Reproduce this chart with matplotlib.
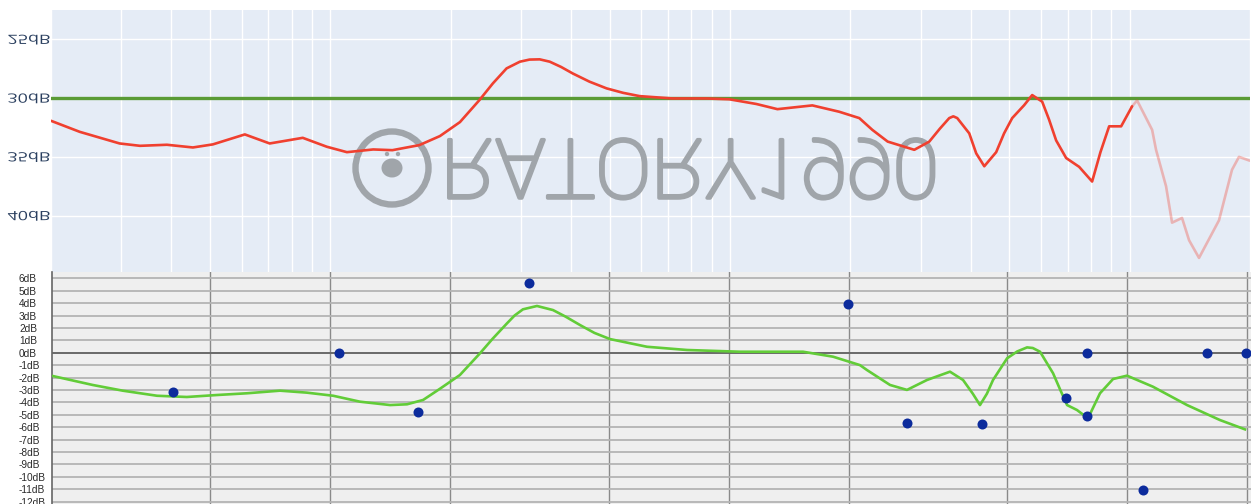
import matplotlib
matplotlib.use("Agg")
import matplotlib.pyplot as plt
from matplotlib.patheffects import AbstractPathEffect
from matplotlib.transforms import Affine2D, IdentityTransform
from matplotlib.patches import Circle, Ellipse
from matplotlib.ticker import FixedLocator, NullLocator

# ---------------- data ----------------
# measured response (top panel, dB)
fr_freq = [20, 23.6, 29.7, 33.4, 39, 45.3, 50.8, 61.1, 70.5, 85.3, 98, 110, 128, 143, 167, 188,
           211, 236, 255, 276, 298, 315, 334, 354, 378, 404, 445, 491, 540, 594, 718, 873, 996,
           1164, 1314, 1607, 1876, 2106, 2270, 2480, 2891, 3152, 3350, 3536, 3620, 3703, 3968,
           4130, 4327, 4634, 4850, 5082, 5445, 5702, 6040, 6280, 6546, 6935, 7474, 8054, 8450,
           8884, 9520, 10140]
fr_db = [31.93, 32.87, 33.86, 34.06, 33.97, 34.2, 33.94, 33.09, 33.86, 33.38, 34.14, 34.6, 34.37,
         34.43, 34.0, 33.23, 32.04, 30.17, 28.75, 27.47, 26.9, 26.72, 26.7, 26.9, 27.35, 27.9,
         28.6, 29.17, 29.55, 29.83, 30.03, 30.03, 30.1, 30.5, 30.94, 30.62, 31.16, 31.7, 32.7,
         33.7, 34.4, 33.7, 32.6, 31.7, 31.55, 31.7, 33.0, 34.7, 35.8, 34.6, 33.0, 31.7, 30.6,
         29.74, 30.3, 31.8, 33.6, 35.1, 35.85, 37.1, 34.6, 32.4, 32.4, 30.7]
# faded high-frequency tail
tail_freq = [10140, 10437, 11380, 11640, 12330, 12765, 13520, 14080, 14910, 16730, 18030, 18770, 19880]
tail_db = [30.7, 30.2, 32.7, 34.4, 37.5, 40.6, 40.2, 42.1, 43.6, 40.4, 36.1, 35.0, 35.3]
target_db = 30

top_yticks = [25, 30, 35, 40]
top_ylabels = ["25dB", "30dB", "35dB", "40dB"]
top_grid_freqs = [20, 30, 40, 50, 60, 70, 80, 90, 100, 200, 300, 400, 500, 600, 700, 800, 900,
                  1000, 2000, 3000, 4000, 5000, 6000, 7000, 8000, 9000, 10000, 20000]

# EQ curve (bottom panel, dB)
eq_freq = [20.1, 25.3, 30.1, 36.7, 43.6, 51.9, 61.8, 74.7, 87.3, 101.6, 118.7, 141.2, 155.7, 170.9,
           188.5, 211.4, 237.4, 255, 277.6, 290, 304.4, 330.1, 362.2, 390, 423.5, 460, 503.5,
           623.6, 785.8, 1067.9, 1537, 1828, 2136, 2225, 2541, 2803, 3146, 3594, 3876, 4100,
           4275, 4450, 4609, 5000, 5300, 5611, 5800, 6049, 6523, 6800, 7072, 7489, 7981, 8555,
           9225, 9999, 11617, 14148, 17117, 19780]
eq_db = [-1.88, -2.6, -3.06, -3.47, -3.57, -3.41, -3.27, -3.06, -3.22, -3.47, -3.95, -4.22, -4.16,
         -3.81, -2.9, -1.8, -0.05, 1.1, 2.37, 3.0, 3.5, 3.77, 3.44, 2.9, 2.23, 1.6, 1.1, 0.48, 0.22,
         0.08, 0.08, -0.32, -1.0, -1.4, -2.6, -3.0, -2.2, -1.53, -2.2, -3.3, -4.22, -3.3, -2.2,
         -0.45, 0.1, 0.43, 0.38, 0.08, -1.66, -3.0, -4.22, -4.62, -5.29, -3.27, -2.12, -1.85,
         -2.74, -4.22, -5.43, -6.18]

# filter points
filt_freq = [40.2, 105.3, 165.6, 315.7, 1995, 2800, 4332, 7031, 7945, 7945, 10950, 15910, 19900]
filt_gain = [-3.19, 0, -4.76, 5.65, 3.95, -5.65, -5.75, -3.63, 0, -5.1, -11.1, 0, 0]

bottom_yticks = list(range(6, -13, -1))
bottom_ylabels = [f"{v}dB" for v in bottom_yticks]
bottom_grid_freqs = [50, 100, 200, 500, 1000, 2000, 5000, 10000, 20000]


# ---------------- helpers ----------------
class MirrorText(AbstractPathEffect):
    """Draw text mirrored top-to-bottom (optionally stretched, optionally outlined)."""

    def __init__(self, sx=1.0, anchor="center", stroke=0.0, stroke_color=None):
        super().__init__()
        self.sx = sx
        self.anchor = anchor
        self.stroke = stroke
        self.stroke_color = stroke_color

    def draw_path(self, renderer, gc, tpath, affine, rgbFace=None):
        ext = tpath.get_extents(affine)
        cy = 0.5 * (ext.y0 + ext.y1)
        if self.anchor == "left":
            cx = ext.x0
        elif self.anchor == "right":
            cx = ext.x1
        else:
            cx = 0.5 * (ext.x0 + ext.x1)
        flip = Affine2D().translate(-cx, -cy).scale(self.sx, -1).translate(cx, cy)
        if self.stroke > 0:
            gc2 = renderer.new_gc()
            gc2.copy_properties(gc)
            gc2.set_linewidth(self.stroke)
            gc2.set_foreground(self.stroke_color)
            gc2.set_joinstyle("round")
            renderer.draw_path(gc2, tpath, affine + flip, rgbFace)
            gc2.restore()
        else:
            renderer.draw_path(gc, tpath, affine + flip, rgbFace)


W, H = 1251, 504
fig = plt.figure(figsize=(W / 100, H / 100), dpi=100)
fig.patch.set_facecolor("white")

# ---------------- top panel (mirrored) ----------------
top_bg = "#e5ecf6"
ax1 = fig.add_axes([51 / W, 232 / H, 1199 / W, 262 / H])
ax1.set_facecolor(top_bg)
ax1.set_xscale("log")
ax1.set_xlim(20, 20000)
ax1.set_ylim(44.8, 22.5)
for s in ax1.spines.values():
    s.set_visible(False)
ax1.xaxis.set_major_locator(FixedLocator(top_grid_freqs))
ax1.xaxis.set_minor_locator(NullLocator())
ax1.set_xticklabels([])
ax1.set_yticks(top_yticks)
ax1.set_yticklabels(top_ylabels)
ax1.tick_params(axis="both", length=0)
ax1.tick_params(axis="y", pad=0.6, labelsize=9.2, labelcolor="#2a3f5f")
for t in ax1.get_yticklabels():
    t.set_fontfamily("Open Sans")
    t.set_path_effects([MirrorText(1.4, "right")])
ax1.grid(True, color="white", linewidth=1.0)
ax1.set_axisbelow(True)

# watermark (mirrored)
wm_color = "#a0a5aa"
ring = Circle((392, H - 168), 36.5, transform=IdentityTransform(), fill=False,
              edgecolor=wm_color, linewidth=4.6, zorder=1)
ax1.add_patch(ring)
dot = Ellipse((392, H - 168), 21, 19, transform=IdentityTransform(),
              facecolor=wm_color, edgecolor="none", zorder=1)
ax1.add_patch(dot)
for xd in (387, 398):
    ax1.add_patch(Circle((xd, H - 154), 2.2, transform=IdentityTransform(),
                         facecolor=wm_color, edgecolor="none", zorder=1))
wm = ax1.text(441, H - 198, "RATORY1990", transform=IdentityTransform(), fontsize=59,
              family="Roboto", fontweight="light", color=wm_color, ha="left",
              va="baseline", zorder=1.5)
wm.set_path_effects([MirrorText(1.02, "left", stroke=2.6, stroke_color=wm_color)])

ax1.axhline(target_db, color="#5a9b35", linewidth=2.4, zorder=3)
ax1.plot(fr_freq, fr_db, color="#f0402f", linewidth=1.9, zorder=4,
         solid_joinstyle="round", solid_capstyle="round")
ax1.plot(tail_freq, tail_db, color="#f0402f", alpha=0.33, linewidth=1.9, zorder=4,
         solid_joinstyle="round")

# ---------------- bottom panel (EQ) ----------------
ax2 = fig.add_axes([52 / W, 0, 1199 / W, 232 / H])
ax2.set_facecolor("#efefef")
ax2.set_xscale("log")
ax2.set_xlim(20, 20480)
ax2.set_ylim(-12.2, 6.51)
for k, s in ax2.spines.items():
    s.set_visible(k == "left")
ax2.spines["left"].set_color("#666666")
ax2.spines["left"].set_linewidth(1.2)
ax2.xaxis.set_major_locator(FixedLocator(bottom_grid_freqs))
ax2.xaxis.set_minor_locator(NullLocator())
ax2.set_xticklabels([])
ax2.set_yticks(bottom_yticks)
ax2.set_yticklabels(bottom_ylabels)
ax2.tick_params(axis="both", length=0)
ax2.tick_params(axis="y", pad=23.8, labelsize=7.3, labelcolor="#2a2a2a")
for t in ax2.get_yticklabels():
    t.set_ha("left")
    t.set_fontfamily("Liberation Sans")
ax2.grid(True, axis="y", color="#b4b4b4", linewidth=1.3)
ax2.grid(True, axis="x", color="#8a8a8a", linewidth=1.0)
ax2.set_axisbelow(True)
ax2.axhline(0, color="#555555", linewidth=1.1, zorder=1.5)

ax2.plot(eq_freq, eq_db, color="#62cc38", linewidth=1.9, zorder=3, solid_joinstyle="round")
ax2.scatter(filt_freq, filt_gain, s=52, color="#0c2b9c", zorder=4, clip_on=False, linewidths=0)

fig.savefig("out.png", dpi=100)
